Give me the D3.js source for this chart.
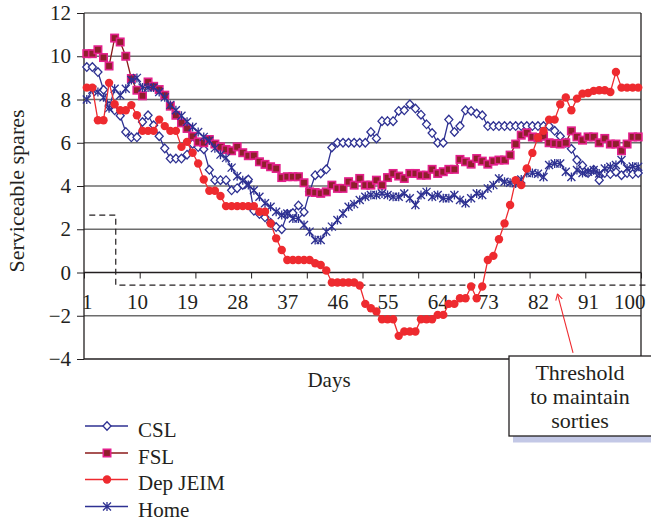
<!DOCTYPE html>
<html>
<head>
<meta charset="utf-8">
<script src="https://cdn.jsdelivr.net/npm/d3@7"></script>
<style>
    body { margin: 0; background: #fff; }
    text { font-family: "Liberation Serif", "Times New Roman", serif; fill: #231f20; }
</style>
</head>
<body>
<div id="chart"></div>
<script>
// days 1..100 are the categories
var days = d3.range(1, 101);
var tickLabels = [1, 10, 19, 28, 37, 46, 55, 64, 73, 82, 91, 100];
var yTicks = [-4, -2, 0, 2, 4, 6, 8, 10, 12];

var cslValues = [9.5, 9.5, 9.27, 8.45, 7.7, 7.5, 7.25, 6.5, 6.25, 6.25,
    6.96, 7.27, 6.81, 6.3, 5.74, 5.27, 5.27, 5.27, 5.45, 5.95,
    5.8, 5.7, 4.75, 4.27, 4.27, 4.27, 3.8, 3.9, 4.05, 4.3,
    2.85, 2.7, 2.55, 2.3, 2.1, 2.0, 2.7, 2.75, 3.1, 2.8,
    3.73, 4.5, 4.58, 4.77, 5.78, 6.0, 6.0, 6.0, 6.0, 6.0,
    6.0, 6.5, 6.2, 7.0, 7.0, 7.0, 7.47, 7.5, 7.78, 7.58,
    7.3, 6.85, 6.45, 6.0, 6.0, 7.07, 6.5, 6.77, 7.5, 7.47,
    7.35, 7.27, 6.77, 6.77, 6.77, 6.77, 6.77, 6.77, 6.77, 6.77,
    6.77, 6.77, 6.77, 6.77, 6.55, 6.3, 6.0, 5.72, 5.2, 4.95,
    4.6, 4.75, 4.27, 4.6, 4.55, 4.65, 4.5, 4.6, 4.55, 4.6];

var fslValues = [10.12, 10.12, 10.3, 9.94, 9.55, 10.84, 10.66, 10.0, 8.97, 8.43,
    8.17, 8.81, 8.61, 8.46, 8.2, 7.69, 7.27, 6.92, 6.66, 6.3,
    6.04, 6.0, 6.15, 5.94, 5.81, 5.69, 5.63, 5.81, 5.54, 5.4,
    5.41, 5.12, 5.0, 4.89, 4.81, 4.39, 4.43, 4.43, 4.43, 4.15,
    3.73, 3.7, 3.66, 3.73, 4.04, 3.89, 3.89, 4.2, 4.04, 4.35,
    4.04, 4.04, 4.27, 4.04, 4.39, 4.58, 4.46, 4.35, 4.58, 4.58,
    4.5, 4.5, 4.77, 4.58, 4.66, 4.77, 4.77, 5.23, 5.12, 5.01,
    5.27, 5.15, 5.01, 5.15, 5.2, 5.2, 5.43, 5.94, 6.35, 6.46,
    6.27, 6.24, 6.3, 6.0, 5.97, 5.94, 6.0, 6.55, 6.27, 6.12,
    6.27, 6.27, 6.0, 6.2, 5.94, 5.94, 5.63, 5.94, 6.27, 6.27];

var depValues = [8.55, 8.55, 7.04, 7.04, 8.77, 7.78, 7.5, 7.5, 7.74, 7.27,
    6.55, 6.55, 6.55, 7.07, 6.77, 6.55, 6.55, 5.81, 6.04, 5.54,
    5.04, 4.3, 3.78, 3.78, 3.54, 3.07, 3.07, 3.07, 3.07, 3.07,
    3.07, 2.81, 2.81, 2.27, 1.58, 1.04, 0.58, 0.58, 0.58, 0.58,
    0.58, 0.43, 0.35, 0.09, -0.46, -0.46, -0.46, -0.46, -0.46, -0.6,
    -1.45, -1.65, -1.8, -2.16, -2.16, -2.16, -2.93, -2.73, -2.73, -2.73,
    -2.16, -2.16, -2.16, -1.96, -1.96, -1.45, -1.45, -1.19, -1.19, -0.65,
    -1.19, -0.65, 0.58, 0.77, 1.54, 2.27, 3.12, 4.27, 4.04, 4.81,
    5.53, 6.24, 6.55, 7.07, 7.07, 7.78, 8.09, 7.5, 8.04, 8.27,
    8.3, 8.4, 8.43, 8.43, 8.35, 9.27, 8.55, 8.55, 8.55, 8.55];

var homeValues = [8.0, 8.45, 8.35, 8.1, 7.6, 8.5, 8.2, 8.5, 8.9, 9.0,
    8.55, 8.55, 8.55, 8.35, 8.1, 7.75, 7.5, 7.25, 6.97, 6.73,
    6.5, 6.27, 6.1, 5.75, 5.45, 5.3, 4.85, 4.45, 4.27, 4.05,
    3.8, 3.5, 3.2, 3.04, 2.81, 2.66, 2.73, 2.5, 2.5, 2.2,
    1.89, 1.5, 1.5, 1.89, 2.12, 2.43, 2.73, 3.04, 3.16, 3.35,
    3.5, 3.58, 3.58, 3.65, 3.58, 3.5, 3.5, 3.65, 3.43, 3.12,
    3.58, 3.73, 3.5, 3.58, 3.43, 3.43, 3.58, 3.35, 3.2, 3.43,
    3.65, 3.58, 3.89, 4.04, 4.35, 4.2, 4.15, 4.12, 4.3, 4.6,
    4.6, 4.57, 4.42, 4.97, 5.04, 5.04, 4.66, 4.42, 4.74, 4.6,
    4.66, 4.74, 4.58, 4.81, 4.89, 4.97, 5.2, 4.81, 4.9, 4.89];

// threshold annotation (day / value units)
var thresholdLevel = -0.58;
var stepLevel = 2.65;
var stepStartDay = 1.45;
var stepDay = 6.2;
var thresholdEndDay = 101.8;

var width = 651;
var height = 522;

var plotLeft = 84;
var plotRight = 641;
var plotTop = 13;
var plotBottom = 359;

var navy = "#2e3192";
var red = "#ee2a2f";

var svg = d3
    .select("#chart")
    .append("svg")
    .attr("width", width)
    .attr("height", height);

var xScale = d3.scaleLinear().domain([0.5, 100.5]).range([plotLeft, plotRight]);
var yScale = d3.scaleLinear().domain([-4, 12]).range([plotBottom, plotTop]);

// gridlines
svg.append("g")
    .selectAll("line")
    .data(yTicks)
    .enter()
    .append("line")
    .attr("x1", plotLeft)
    .attr("x2", plotRight)
    .attr("y1", function(d) { return yScale(d); })
    .attr("y2", function(d) { return yScale(d); })
    .attr("stroke", function(d) { return d === 0 || d === -4 ? "#231f20" : "#6d6d6d"; })
    .attr("stroke-width", function(d) { return d === 0 || d === -4 ? 1.3 : 1.4; });

// side borders
svg.append("line")
    .attr("x1", plotLeft).attr("x2", plotLeft)
    .attr("y1", plotTop).attr("y2", plotBottom)
    .attr("stroke", "#231f20").attr("stroke-width", 1.3);
svg.append("line")
    .attr("x1", plotRight).attr("x2", plotRight)
    .attr("y1", plotTop).attr("y2", plotBottom)
    .attr("stroke", "#231f20").attr("stroke-width", 1.3);

// y axis
var yAxis = d3.axisLeft(yScale).tickValues(yTicks).tickSize(7).tickSizeOuter(0).tickPadding(6);
var yAxisG = svg.append("g")
    .attr("transform", "translate(" + plotLeft + ",0)")
    .call(yAxis);
yAxisG.select(".domain").remove();
yAxisG.selectAll("line").attr("stroke", "#231f20");
yAxisG.selectAll("text")
    .attr("font-size", 21)
    .attr("font-family", "Liberation Serif, serif")
    .attr("fill", "#231f20");

// x axis: ticks every 10 days sitting on the 0 line, labels every 9 days
var boundaries = d3.range(0, 11).map(function(k) { return 0.5 + k * 10; });
var xTickG = svg.append("g")
    .attr("transform", "translate(0," + yScale(0) + ")")
    .call(d3.axisBottom(xScale).tickValues(boundaries).tickSize(6).tickSizeOuter(0).tickFormat(""));
xTickG.select(".domain").remove();
xTickG.selectAll("line").attr("stroke", "#231f20");

var xLabelG = svg.append("g")
    .attr("transform", "translate(0," + yScale(0) + ")")
    .call(d3.axisBottom(xScale).tickValues(tickLabels).tickSize(0).tickPadding(22));
xLabelG.select(".domain").remove();
xLabelG.selectAll("text")
    .attr("font-size", 21)
    .attr("font-family", "Liberation Serif, serif")
    .attr("fill", "#231f20")
    .each(function(d) {
        // keep the last label inside the picture
        var half = this.getComputedTextLength() / 2;
        var over = xScale(d) + half - (width - 6);
        if (over > 0) {
            d3.select(this).attr("x", -over);
        }
    });

// threshold dashed line
var thresholdPath = [
    [stepStartDay, stepLevel],
    [stepDay, stepLevel],
    [stepDay, thresholdLevel],
    [thresholdEndDay, thresholdLevel]
];
svg.append("path")
    .attr("d", d3.line()
        .x(function(d) { return xScale(d[0]); })
        .y(function(d) { return yScale(d[1]); })(thresholdPath))
    .attr("fill", "none")
    .attr("stroke", "#231f20")
    .attr("stroke-width", 1.2)
    .attr("stroke-dasharray", "6,4");

// series
var series = [
    { name: "CSL", values: cslValues, line: navy, marker: "diamond" },
    { name: "FSL", values: fslValues, line: "#8b1a1a", marker: "square" },
    { name: "Dep JEIM", values: depValues, line: red, marker: "circle" },
    { name: "Home", values: homeValues, line: navy, marker: "star" }
];

function drawMarker(g, type, cx, cy) {
    if (type === "diamond") {
        g.append("path")
            .attr("d", "M" + cx + "," + (cy - 4.3) + "L" + (cx + 4) + "," + cy +
                "L" + cx + "," + (cy + 4.3) + "L" + (cx - 4) + "," + cy + "Z")
            .attr("fill", "#fff")
            .attr("stroke", navy)
            .attr("stroke-width", 1.3);
    } else if (type === "square") {
        g.append("rect")
            .attr("x", cx - 3.7).attr("y", cy - 3.7)
            .attr("width", 7.4).attr("height", 7.4)
            .attr("fill", "#8e1f2b")
            .attr("stroke", "#e3208c")
            .attr("stroke-width", 1.6);
    } else if (type === "circle") {
        g.append("circle")
            .attr("cx", cx).attr("cy", cy).attr("r", 4.2)
            .attr("fill", red);
    } else {
        g.append("path")
            .attr("d", "M" + (cx - 4) + "," + (cy - 4) + "L" + (cx + 4) + "," + (cy + 4) +
                "M" + (cx - 4) + "," + (cy + 4) + "L" + (cx + 4) + "," + (cy - 4) +
                "M" + cx + "," + (cy - 4.5) + "L" + cx + "," + (cy + 4.5))
            .attr("fill", "none")
            .attr("stroke", navy)
            .attr("stroke-width", 1.3);
    }
}

var line = d3.line()
    .x(function(d, i) { return xScale(days[i]); })
    .y(function(d) { return yScale(d); });

// Excel-like order, red drawn last
[0, 1, 3, 2].forEach(function(k) {
    var s = series[k];
    var g = svg.append("g").attr("class", "series");
    g.append("path")
        .attr("d", line(s.values))
        .attr("fill", "none")
        .attr("stroke", s.line)
        .attr("stroke-width", 1.3);
    s.values.forEach(function(v, i) {
        drawMarker(g, s.marker, xScale(days[i]), yScale(v));
    });
});

// axis titles
svg.append("text")
    .attr("x", 329)
    .attr("y", 387)
    .attr("text-anchor", "middle")
    .attr("font-size", 21)
    .text("Days");

svg.append("text")
    .attr("transform", "translate(24,191)rotate(-90)")
    .attr("text-anchor", "middle")
    .attr("font-size", 22)
    .text("Serviceable spares");

// legend
var legendRows = [426, 453, 479.5, 506.5];
series.forEach(function(s, i) {
    var ly = legendRows[i];
    var lg = svg.append("g").attr("class", "legend");
    lg.append("line")
        .attr("x1", 85).attr("x2", 128)
        .attr("y1", ly).attr("y2", ly)
        .attr("stroke", s.line)
        .attr("stroke-width", 1.5);
    drawMarker(lg, s.marker, 107, ly);
    lg.append("text")
        .attr("x", 138)
        .attr("y", ly + 10.5)
        .attr("font-size", 21)
        .text(s.name);
});

// annotation box with shadow
svg.append("rect")
    .attr("x", 513).attr("y", 436)
    .attr("width", 160).attr("height", 6.5)
    .attr("fill", "#c3c8e6");
svg.append("rect")
    .attr("x", 509).attr("y", 356)
    .attr("width", 160).attr("height", 80)
    .attr("fill", "#fff")
    .attr("stroke", "#231f20")
    .attr("stroke-width", 1.3);

var noteLines = ["Threshold", "to maintain", "sorties"];
svg.append("g")
    .selectAll("text")
    .data(noteLines)
    .enter()
    .append("text")
    .attr("x", 580)
    .attr("y", function(d, i) { return 380 + i * 24; })
    .attr("text-anchor", "middle")
    .attr("font-size", 22)
    .text(function(d) { return d; });

// arrow to the threshold line
var arrowTail = [88.3, -3.72];
var arrowTip = [85.5, -0.99];
var tx = xScale(arrowTip[0]), ty = yScale(arrowTip[1]);
var fx = xScale(arrowTail[0]), fy = yScale(arrowTail[1]);
var ang = Math.atan2(ty - fy, tx - fx);
svg.append("line")
    .attr("x1", fx).attr("y1", fy)
    .attr("x2", tx).attr("y2", ty)
    .attr("stroke", red).attr("stroke-width", 1.1);
[-0.5, 0.5].forEach(function(da) {
    svg.append("line")
        .attr("x1", tx).attr("y1", ty)
        .attr("x2", tx - 7 * Math.cos(ang + da))
        .attr("y2", ty - 7 * Math.sin(ang + da))
        .attr("stroke", red).attr("stroke-width", 1.1);
});
</script>
</body>
</html>
